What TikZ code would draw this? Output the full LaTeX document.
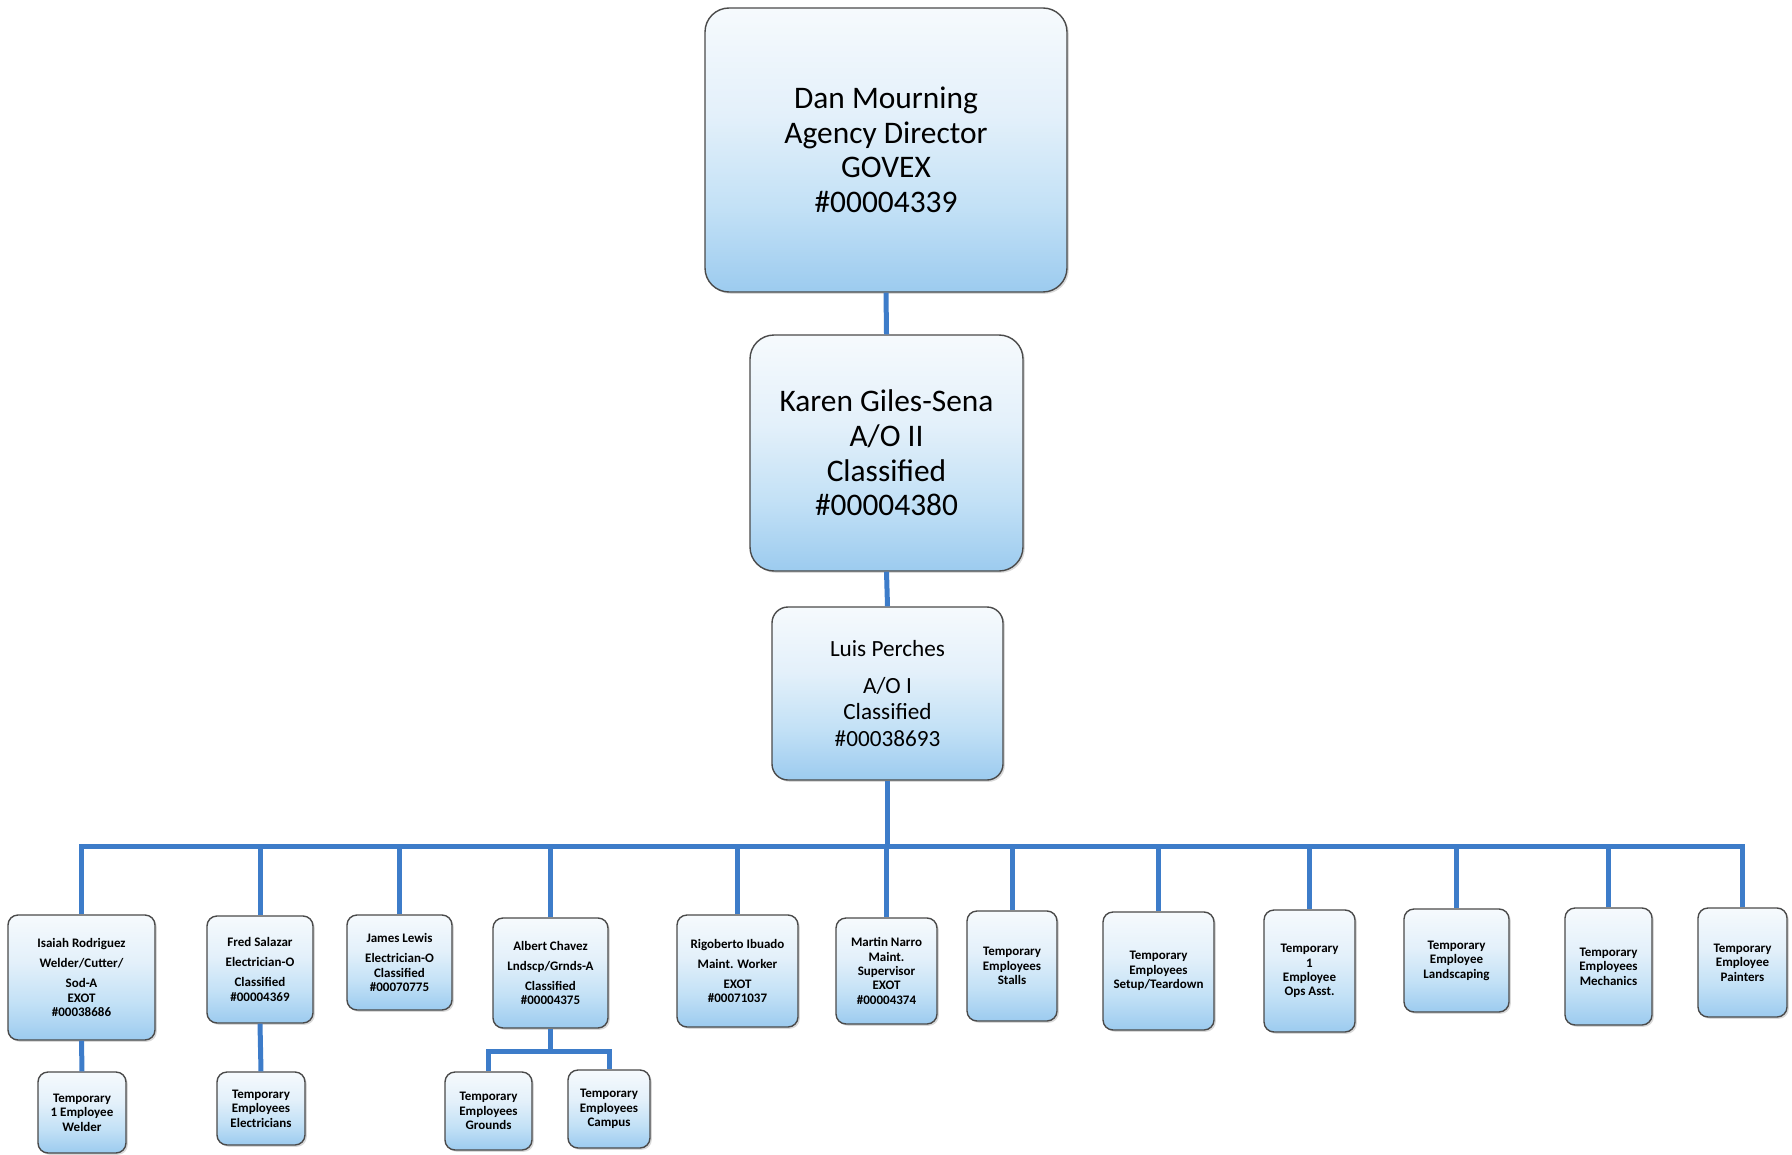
\documentclass[tikz,border=0pt]{standalone}
\usepackage{fontspec}
\setmainfont{Carlito}
\usetikzlibrary{shadows}
\definecolor{linkblue}{HTML}{3D7CC9}
\definecolor{edgegray}{HTML}{4A4A4A}
\definecolor{sbA}{HTML}{9CCBEF}
\definecolor{sbB}{HTML}{C3E1F6}
\definecolor{sbC}{HTML}{E3F0FA}
\definecolor{sbD}{HTML}{F6FAFD}
\pgfdeclareverticalshading{boxshade}{100bp}{color(0bp)=(sbA); color(25bp)=(sbA); color(40bp)=(sbB); color(56bp)=(sbC); color(75bp)=(sbD); color(100bp)=(sbD)}
\tikzset{
  orgbox/.style={draw=edgegray, line width=0.7pt, shade, shading=boxshade, align=center, inner sep=1pt,
    drop shadow={shadow xshift=0.9pt, shadow yshift=-0.9pt, opacity=0.3}},
  bigbox/.style={orgbox, rounded corners=12pt, font=\fontsize{15.7}{17.3}\selectfont},
  midbox/.style={orgbox, rounded corners=8pt, font=\fontsize{11.6}{13.2}\selectfont},
  smallbox/.style={orgbox, rounded corners=5pt, font=\fontsize{6.5}{7.2}\selectfont\bfseries},
  conn/.style={draw=linkblue, line width=2.5pt},
}
\newcommand\obox[7]{%
  \pgfmathsetmacro\obw{(#4-#2)*0.5}%
  \pgfmathsetmacro\obh{(#5-#3)*0.5}%
  \node[#6, minimum width=\obw pt, minimum height=\obh pt] (#1) at ({(#2+#4)/2},{(#3+#5)/2}) {#7};%
}
\begin{document}
\begin{tikzpicture}[x=0.5pt, y=-0.5pt]
\useasboundingbox (0,0) rectangle (1792,1155);
% top levels
\obox{top}{705}{8}{1067}{292}{bigbox}{Dan Mourning\\Agency Director\\GOVEX\\\#00004339}
\obox{karen}{750}{335}{1023}{571}{bigbox}{Karen Giles-Sena\\A/O II\\Classified\\\#00004380}
\obox{luis}{772}{607}{1003}{780}{midbox}{Luis Perches\\[5pt]A/O I\\Classified\\\#00038693}
% bottom row
\obox{isaiah}{8}{915}{155}{1040}{smallbox}{Isaiah Rodriguez\\[2.8pt]Welder/Cutter/\\[2.8pt]Sod-A\\EXOT\\\#00038686}
\obox{fred}{207}{916}{313}{1023}{smallbox}{Fred Salazar\\[2.8pt]Electrician-O\\[2.8pt]Classified\\\#00004369}
\obox{james}{347}{915}{452}{1010}{smallbox}{James Lewis\\[2.8pt]Electrician-O\\Classified\\\#00070775}
\obox{albert}{493}{918}{608}{1028}{smallbox}{Albert Chavez\\[2.8pt]Lndscp/Grnds-A\\[2.8pt]Classified\\\#00004375}
\obox{rigo}{677}{915}{798}{1027}{smallbox}{Rigoberto Ibuado\\[2.8pt]Maint. Worker\\[2.8pt]EXOT\\\#00071037}
\obox{martin}{836}{918}{937}{1024}{smallbox}{Martin Narro\\Maint.\\Supervisor\\EXOT\\\#00004374}
\obox{stalls}{967}{911}{1057}{1021}{smallbox}{Temporary\\Employees\\Stalls}
\obox{setup}{1103}{912}{1214}{1030}{smallbox}{Temporary\\Employees\\Setup/Teardown}
\obox{ops}{1264}{910}{1355}{1032}{smallbox}{Temporary\\1\\Employee\\Ops Asst.}
\obox{landsc}{1404}{909}{1509}{1012}{smallbox}{Temporary\\Employee\\Landscaping}
\obox{mech}{1565}{908}{1652}{1025}{smallbox}{Temporary\\Employees\\Mechanics}
\obox{paint}{1698}{908}{1787}{1017}{smallbox}{Temporary\\Employee\\Painters}
% third level
\obox{welder}{38}{1072}{126}{1153}{smallbox}{Temporary\\1 Employee\\Welder}
\obox{elect}{217}{1072}{305}{1145}{smallbox}{Temporary\\Employees\\Electricians}
\obox{grounds}{445}{1072}{532}{1150}{smallbox}{Temporary\\Employees\\Grounds}
\obox{campus}{568}{1070}{650}{1148}{smallbox}{Temporary\\Employees\\Campus}
% connectors
\coordinate (bus) at (0,846);
\coordinate (split) at (0,1051);
\draw[conn] (top.south) -- (karen.north);
\draw[conn] (karen.south) -- (luis.north);
\draw[conn] (luis.south) -- (luis.south |- bus);
\draw[conn] (isaiah.north) -- (isaiah.north |- bus) -- (paint.north |- bus) -- (paint.north);
\foreach \n in {fred,james,albert,rigo,martin,stalls,setup,ops,landsc,mech}
  \draw[conn] (\n.north) -- (\n.north |- bus);
\draw[conn] (isaiah.south) -- (welder.north);
\draw[conn] (fred.south) -- (elect.north);
\draw[conn] (albert.south) -- (albert.south |- split);
\draw[conn] (grounds.north) -- (grounds.north |- split) -- (campus.north |- split) -- (campus.north);
\end{tikzpicture}
\end{document}
